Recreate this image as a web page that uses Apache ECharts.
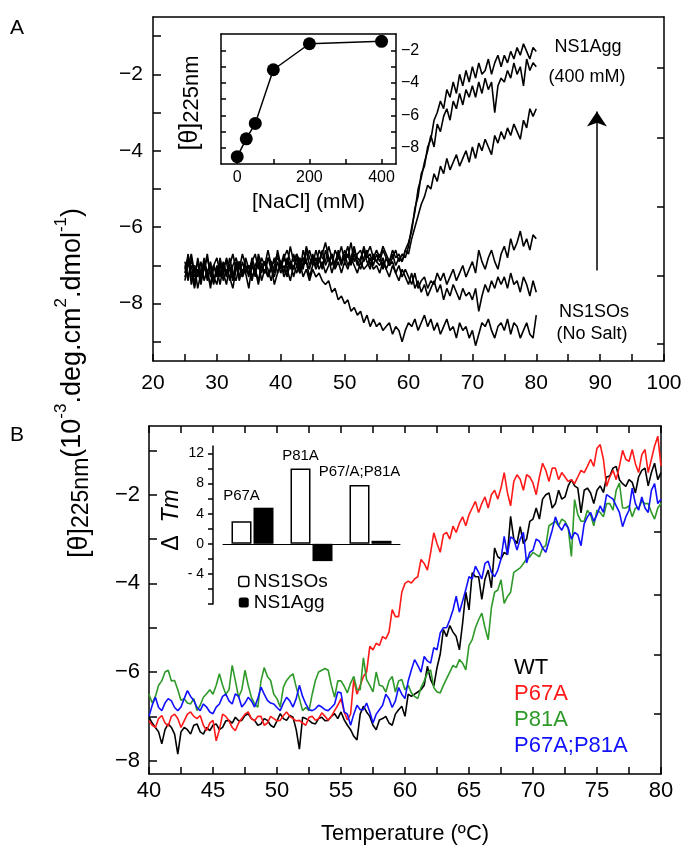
<!DOCTYPE html>
<html>
<head>
<meta charset="utf-8">
<title>NS1 thermal unfolding</title>
<script src="https://cdn.jsdelivr.net/npm/echarts@6.0.0/dist/echarts.min.js"></script>
<style>
  html, body { margin: 0; padding: 0; background: #fff; }
  #main { width: 688px; height: 848px; }
</style>
</head>
<body>
<div id="main"></div>
<script>
// ---- panel A : 25..80 C every 0.5 C, one curve per NaCl concentration
var tempsAStart = 25, tempsAStep = 0.5;
var salt0 = [
  -7.2,-6.7,-7.5,-7.0,-7.3,-6.9,-7.4,-7.1,-7.6,-7.0,
  -7.3,-6.8,-7.2,-7.5,-7.0,-7.3,-6.9,-7.4,-7.1,-7.2,
  -7.6,-7.0,-7.2,-6.9,-7.4,-7.1,-7.3,-7.0,-7.5,-7.2,
  -6.9,-7.3,-7.1,-7.4,-7.0,-7.2,-6.9,-7.3,-7.1,-7.4,
  -7.1,-7.3,-7.2,-7.4,-7.5,-7.4,-7.7,-7.6,-7.9,-7.8,
  -8.0,-7.9,-8.2,-8.1,-8.3,-8.2,-8.5,-8.3,-8.6,-8.4,
  -8.6,-8.5,-8.7,-8.6,-8.5,-8.8,-8.6,-8.7,-9.0,-8.7,
  -8.5,-8.6,-8.4,-8.7,-8.5,-8.3,-8.6,-8.4,-8.7,-8.5,
  -8.8,-8.6,-8.4,-8.7,-8.6,-8.9,-8.5,-8.7,-8.6,-8.9,
  -8.7,-9.1,-8.8,-8.5,-8.6,-8.4,-8.7,-8.9,-8.6,-8.5,
  -8.7,-8.4,-8.8,-8.5,-8.6,-8.9,-8.7,-8.5,-8.8,-8.9,
  -8.3];
var salt25 = [
  -7.0,-7.4,-6.8,-7.3,-7.1,-7.5,-7.0,-7.2,-6.9,-7.4,
  -7.1,-7.5,-7.0,-7.3,-6.8,-7.2,-7.4,-7.0,-7.3,-7.1,
  -7.0,-7.3,-7.1,-7.5,-7.0,-7.2,-6.8,-7.1,-7.3,-6.9,
  -7.2,-7.0,-7.3,-6.9,-7.1,-6.8,-7.2,-7.0,-6.9,-7.3,
  -7.0,-6.8,-7.1,-6.9,-7.2,-7.0,-6.7,-7.1,-6.9,-7.2,
  -6.9,-7.1,-6.8,-7.0,-7.2,-6.9,-7.1,-7.0,-6.8,-7.1,
  -7.0,-7.2,-6.9,-7.1,-7.3,-7.0,-7.2,-7.4,-7.1,-7.3,
  -7.5,-7.2,-7.6,-7.4,-7.7,-7.5,-7.8,-7.6,-7.4,-7.7,
  -7.5,-7.9,-7.6,-7.8,-7.5,-7.7,-7.9,-7.6,-7.8,-7.7,
  -7.9,-7.6,-8.2,-7.8,-7.5,-7.7,-7.4,-7.6,-7.3,-7.5,
  -7.3,-7.6,-7.2,-7.5,-7.4,-7.7,-7.3,-7.5,-7.8,-7.4,
  -7.7];
var salt50 = [
  -7.4,-6.9,-7.2,-7.6,-7.1,-7.3,-6.8,-7.2,-7.5,-7.0,
  -7.2,-6.9,-7.4,-7.1,-7.3,-7.6,-7.1,-6.9,-7.2,-7.0,
  -7.3,-6.8,-7.1,-7.4,-7.0,-6.9,-7.3,-7.1,-6.8,-7.2,
  -7.0,-6.7,-7.1,-6.9,-7.3,-7.0,-6.8,-7.1,-6.6,-7.0,
  -6.8,-7.1,-6.9,-6.6,-7.0,-6.8,-7.2,-6.9,-6.7,-7.0,
  -6.7,-7.0,-6.8,-6.5,-6.9,-7.1,-6.8,-6.6,-7.0,-6.8,
  -6.9,-6.7,-7.1,-6.8,-7.0,-6.9,-7.2,-7.0,-7.3,-7.1,
  -7.3,-7.5,-7.2,-7.6,-7.4,-7.3,-7.6,-7.4,-7.5,-7.2,
  -7.4,-7.2,-7.5,-7.3,-7.1,-7.4,-7.2,-7.0,-7.3,-7.1,
  -6.9,-7.2,-6.6,-6.9,-7.1,-6.8,-6.6,-6.9,-7.1,-6.7,
  -6.5,-6.8,-6.3,-6.6,-6.4,-6.1,-6.5,-6.3,-6.6,-6.2,
  -6.3];
var salt100 = [
  -6.9,-7.3,-7.0,-7.5,-6.8,-7.2,-7.1,-6.7,-7.3,-7.0,
  -6.8,-7.2,-7.0,-6.9,-7.4,-7.0,-6.8,-7.1,-6.7,-7.0,
  -7.2,-6.9,-6.7,-7.1,-6.8,-7.0,-6.6,-7.0,-6.9,-6.7,
  -7.1,-6.8,-7.0,-6.5,-6.9,-6.7,-7.1,-6.8,-6.9,-6.6,
  -6.9,-7.0,-6.6,-6.8,-6.9,-6.5,-6.8,-7.0,-6.6,-6.9,
  -6.8,-6.5,-6.9,-6.7,-7.0,-6.8,-6.6,-6.9,-7.1,-6.7,
  -6.9,-7.0,-6.8,-7.1,-6.9,-6.7,-7.0,-6.8,-6.9,-6.6,
  -6.7,-6.3,-6.0,-5.7,-5.4,-5.2,-4.9,-5.0,-4.6,-4.8,
  -4.4,-4.6,-4.2,-4.5,-4.3,-4.1,-4.4,-4.2,-4.0,-4.3,
  -3.9,-4.2,-3.8,-4.0,-3.7,-3.9,-4.1,-3.6,-3.8,-3.5,
  -3.7,-3.4,-3.6,-3.3,-3.5,-3.7,-3.2,-3.4,-2.9,-3.1,
  -2.9];
var salt200 = [
  -7.1,-6.8,-7.3,-7.0,-7.6,-7.2,-6.9,-7.4,-7.0,-7.3,
  -7.5,-7.0,-7.2,-6.8,-7.1,-7.4,-7.0,-7.3,-6.9,-7.2,
  -7.0,-7.4,-7.0,-6.8,-7.2,-6.9,-7.1,-7.4,-7.0,-6.8,
  -6.9,-7.2,-6.8,-7.1,-6.7,-7.0,-7.2,-6.6,-6.9,-7.1,
  -6.7,-7.0,-6.8,-7.1,-6.6,-6.9,-6.7,-7.0,-6.8,-6.5,
  -6.9,-6.7,-7.0,-6.6,-6.8,-6.9,-6.5,-6.8,-6.7,-7.0,
  -6.7,-6.9,-6.6,-6.8,-7.0,-6.8,-6.6,-6.9,-6.7,-6.8,
  -6.5,-6.0,-5.6,-5.0,-4.7,-4.3,-4.0,-3.6,-3.9,-3.3,
  -3.5,-3.1,-2.9,-3.2,-2.7,-2.9,-2.5,-2.8,-2.4,-2.6,
  -2.3,-2.6,-2.2,-2.5,-2.1,-2.4,-2.2,-3.0,-2.3,-2.1,
  -2.2,-1.9,-2.1,-1.7,-2.0,-1.8,-2.3,-1.6,-1.9,-1.7,
  -1.8];
var salt400 = [
  -7.3,-7.0,-6.7,-7.2,-6.9,-7.4,-7.1,-6.8,-7.2,-7.5,
  -7.0,-7.3,-6.9,-7.2,-7.0,-6.7,-7.1,-6.9,-7.3,-6.8,
  -7.1,-6.9,-7.3,-6.7,-7.0,-7.2,-6.8,-6.9,-7.2,-6.6,
  -7.0,-6.8,-6.6,-6.9,-7.1,-6.7,-6.9,-7.0,-6.5,-6.8,
  -7.0,-6.6,-6.9,-6.7,-6.4,-6.8,-7.0,-6.6,-6.8,-6.9,
  -6.6,-6.8,-6.4,-6.9,-6.7,-6.6,-6.9,-6.7,-6.5,-6.8,
  -6.6,-6.8,-6.5,-6.7,-6.9,-6.6,-6.8,-6.7,-6.9,-6.6,
  -6.4,-6.1,-5.5,-5.2,-4.6,-4.4,-3.9,-3.7,-3.2,-3.0,
  -2.7,-2.9,-2.4,-2.6,-2.2,-2.5,-2.0,-2.3,-1.9,-2.2,
  -1.8,-2.1,-1.7,-2.0,-1.9,-1.6,-2.0,-1.7,-1.5,-1.8,
  -1.5,-1.7,-1.4,-1.6,-1.3,-1.5,-1.2,-1.4,-1.6,-1.3,
  -1.4];

// inset A : end point signal vs NaCl
var naclConc = [0, 25, 50, 100, 200, 400];
var naclTheta = [-8.55, -7.45, -6.5, -3.2, -1.6, -1.45];

// ---- panel B : 40..80 C every 0.25 C
var tempsBStart = 40, tempsBStep = 0.25;
var wt = [
  -7.02,-7.15,-7.25,-7.35, -7.62,-7.30,-7.17,-7.25, -7.40,-7.85,-7.35,-7.25, -7.30,-7.40,-7.20,-7.17,
  -7.35,-7.40,-7.25,-7.32, -7.20,-7.17,-7.30,-7.25, -7.10,-7.09,-7.15,-7.02, -7.10,-7.09,-6.98,-6.94,
  -7.05,-7.09,-7.20,-7.17, -7.05,-7.09,-7.20,-7.25, -7.10,-6.94,-7.05,-7.09, -6.98,-7.02,-7.30,-7.74,
  -7.02,-7.05,-7.09,-7.15, -7.17,-7.05,-7.02,-7.10, -7.09,-7.00,-6.94,-7.05, -6.90,-7.08,-7.20,-7.30,
  -7.45,-7.53,-6.95,-6.77, -6.90,-7.00,-7.20,-7.30, -7.08,-7.05,-7.00,-7.15, -7.20,-6.95,-6.85,-6.77,
  -7.00,-6.50,-6.55,-6.50, -6.45,-6.40,-6.30,-5.87, -6.17,-6.32,-5.90,-5.60, -5.04,-5.20,-4.95,-5.10,
  -5.20,-5.50,-4.90,-4.20, -4.60,-3.76,-3.85,-3.85, -4.36,-3.90,-3.70,-4.10, -3.20,-3.40,-3.45,-3.30,
  -3.35,-2.49,-3.00,-3.10, -2.72,-3.10,-3.00,-2.60, -2.55,-2.30,-2.55,-2.10, -2.00,-1.96,-2.30,-2.20,
  -1.90,-2.10,-2.05,-1.80, -1.66,-1.80,-1.85,-2.41, -1.90,-1.85,-1.96,-2.20, -1.90,-1.80,-1.95,-1.60,
  -1.58,-1.40,-1.36,-1.66, -1.75,-1.81,-1.66,-1.72, -1.96,-1.60,-1.45,-1.40, -1.80,-1.50,-1.29,-1.66,
  -1.50];
var p67a = [
  -7.10,-7.20,-7.25,-7.05, -6.98,-7.15,-7.22,-7.00, -6.95,-7.05,-7.25,-7.10, -6.95,-6.90,-7.00,-7.05,
  -6.98,-7.20,-7.32,-7.15, -7.09,-7.55,-7.30,-6.95, -7.00,-7.10,-7.25,-7.32, -7.15,-7.05,-6.95,-6.90,
  -7.05,-7.10,-7.00,-7.00, -7.20,-7.15,-7.00,-7.05, -7.10,-7.09,-6.98,-6.90, -7.00,-7.05,-7.10,-7.09,
  -7.15,-7.20,-7.02,-7.00, -7.09,-7.05,-6.92,-7.00, -7.09,-7.00,-6.87,-6.75, -6.60,-6.90,-7.08,-6.95,
  -6.17,-6.50,-6.30,-6.10, -6.00,-5.42,-5.50,-5.35, -5.40,-5.20,-5.25,-5.10, -4.59,-4.75,-4.75,-4.20,
  -4.00,-3.95,-3.99,-3.90, -3.85,-3.46,-3.55,-3.70, -3.31,-2.86,-3.10,-3.30, -2.90,-2.85,-3.00,-2.71,
  -2.85,-2.64,-2.50,-2.70, -2.45,-2.30,-2.15,-2.40, -2.20,-2.05,-2.30,-2.00, -1.90,-2.10,-1.85,-1.50,
  -1.95,-2.25,-1.70,-1.55, -1.65,-1.90,-1.55,-1.60, -1.74,-2.00,-1.60,-1.29, -1.45,-1.70,-1.40,-1.40,
  -1.66,-1.50,-1.60,-1.70, -1.66,-1.75,-1.60,-1.45, -1.50,-1.36,-1.20,-1.36, -0.95,-0.87,-1.20,-1.81,
  -1.60,-1.45,-1.66,-1.36, -1.00,-1.20,-1.25,-0.98, -1.30,-1.50,-1.10,-0.98, -1.50,-1.20,-0.90,-0.68,
  -1.35];
var p81a = [
  -6.50,-6.70,-6.55,-6.30, -6.20,-6.00,-5.96,-6.20, -6.19,-6.40,-6.64,-6.60, -6.70,-6.72,-6.60,-6.87,
  -6.75,-6.57,-6.49,-6.40, -6.50,-6.30,-6.04,-6.30, -6.50,-6.40,-5.85,-6.20, -6.57,-6.40,-5.96,-6.30,
  -6.57,-6.72,-6.79,-6.20, -5.90,-6.10,-6.19,-6.50, -6.60,-6.79,-6.34,-6.19, -6.10,-6.04,-6.34,-6.60,
  -6.87,-6.80,-6.87,-6.50, -6.19,-6.00,-5.96,-5.92, -5.96,-6.30,-6.57,-6.20, -6.20,-6.32,-6.47,-6.25,
  -6.10,-6.40,-6.40,-5.68, -6.17,-6.30,-6.45,-6.00, -6.30,-6.32,-6.45,-6.20, -6.10,-6.45,-6.20,-6.17,
  -6.40,-6.30,-6.47,-6.55, -6.60,-6.35,-6.20,-6.02, -5.95,-6.35,-6.45,-6.47, -6.30,-6.15,-6.00,-5.85,
  -5.90,-5.72,-5.80,-5.95, -5.40,-5.27,-5.00,-4.82, -4.67,-5.00,-5.27,-4.55, -4.20,-4.15,-3.92,-4.45,
  -4.30,-4.20,-3.75,-3.70, -3.65,-3.55,-3.45,-3.40, -3.30,-3.35,-3.40,-3.20, -3.15,-2.70,-2.65,-2.60,
  -2.70,-2.55,-2.60,-2.75, -3.39,-2.11,-2.45,-2.60, -2.60,-2.35,-2.45,-2.70, -2.35,-2.40,-2.50,-2.20,
  -2.20,-2.35,-1.90,-1.74, -2.30,-2.30,-2.25,-2.50, -2.30,-2.30,-2.15,-2.20, -2.20,-2.40,-2.55,-2.30,
  -2.20];
var p67ap81a = [
  -7.00,-6.75,-6.57,-6.80, -6.87,-6.70,-6.60,-6.65, -6.80,-6.87,-6.79,-6.60, -6.42,-6.55,-6.64,-6.80,
  -6.87,-6.72,-6.79,-6.90, -6.94,-6.79,-6.72,-6.55, -6.50,-6.65,-6.72,-6.49, -6.55,-6.79,-6.70,-6.57,
  -6.65,-6.79,-6.60,-6.34, -6.50,-6.64,-6.70,-6.72, -6.80,-6.87,-6.70,-6.57, -6.65,-6.79,-6.60,-6.30,
  -6.55,-6.72,-6.85,-6.87, -6.83,-6.75,-6.79,-6.85, -6.87,-6.80,-6.72,-6.45, -6.47,-6.90,-6.95,-7.20,
  -6.95,-6.75,-6.85,-6.85, -6.70,-6.90,-7.15,-6.95, -6.85,-6.75,-6.50,-6.60, -6.80,-6.65,-6.35,-6.50,
  -6.60,-6.20,-5.95,-5.72, -5.85,-6.00,-5.65,-5.75, -5.80,-5.45,-5.50,-5.12, -5.00,-5.00,-4.82,-4.60,
  -4.29,-4.65,-4.40,-4.14, -3.85,-3.90,-3.61,-3.75, -3.90,-3.55,-3.50,-3.75, -3.85,-3.70,-3.45,-2.94,
  -3.35,-2.95,-3.00,-3.25, -3.00,-2.85,-3.54,-3.30, -3.25,-3.00,-3.05,-3.20, -3.30,-3.05,-2.80,-2.50,
  -2.70,-2.80,-2.65,-2.75, -3.00,-2.85,-2.90,-3.15, -2.65,-2.50,-2.40,-2.60, -2.45,-2.25,-2.40,-2.00,
  -2.05,-2.10,-2.25,-2.40, -2.72,-2.50,-2.35,-1.85, -2.20,-2.35,-2.05,-2.30, -2.40,-1.90,-1.75,-2.20,
  -2.10];

// inset B : delta Tm per mutant
var mutants = ['P67A', 'P81A', 'P67/A;P81A'];
var dTmSOs = [3.0, 10.0, 7.8];
var dTmAgg = [4.8, -2.3, 0.4];

// axis tick / label values
var tickA_left = [-9, -8, -7, -6, -5, -4, -3, -2, -1];
var labelA_left = [-8, -6, -4, -2];
var tickA_right = [-1.84, -3.66, -5.47, -7.26, -9.05];
var tickInsetA_y = [-8, -7, -6, -5, -4, -3, -2];
var labelInsetA_y = [-8, -6, -4, -2];
var tickInsetA_x = [0, 100, 200, 300, 400];
var labelInsetA_x = [0, 200, 400];
var tickB_left = [-8, -7, -6, -5, -4, -3, -2, -1];
var labelB_left = [-8, -6, -4, -2];
var tickB_right = [-2.84, -4.25, -5.6, -6.95];
var tickInsetB_y = [-8, -6, -4, -2, 0, 2, 4, 6, 8, 10, 12];
var labelInsetB_y = [-4, 0, 4, 8, 12];

var FONT = '"Liberation Sans", Arial, sans-serif';
var seriesColors = { 'WT': '#000000', 'P67A': '#ff1a1a', 'P81A': '#2f9a2a', 'P67A;P81A': '#1010ff' };

function temps(start, step, n) {
  var t = [];
  for (var i = 0; i < n; i++) t.push(+(start + i * step).toFixed(2));
  return t;
}
function pairs(xs, ys) {
  return ys.map(function (v, i) { return [xs[i], v]; });
}
function minus(v) {
  return v < 0 ? '\u2212' + Math.abs(v) : String(v);
}

var tA = temps(tempsAStart, tempsAStep, salt0.length);
var tB = temps(tempsBStart, tempsBStep, wt.length);

var frame = { show: true, onZero: false, lineStyle: { color: '#000', width: 1.5 } };
var noSplit = { show: false };

function lineOnly(gridIndex, pos, min, max) {
  return { gridIndex: gridIndex, type: 'value', position: pos, min: min, max: max,
    axisLine: frame, axisTick: { show: false }, axisLabel: { show: false }, splitLine: noSplit };
}

var myChart = echarts.init(document.getElementById('main'), null, { renderer: 'canvas' });

var aSeries = [salt0, salt25, salt50, salt100, salt200, salt400].map(function (arr, i) {
  var s = {
    type: 'line', xAxisIndex: 0, yAxisIndex: 0, symbol: 'none',
    lineStyle: { color: '#000', width: 1.6 }, data: pairs(tA, arr), z: 3
  };
  if (i === 0) {
    s.markLine = {
      silent: true, symbol: ['none', 'arrow'], symbolSize: 15,
      label: { show: false },
      lineStyle: { color: '#000', width: 1.5, type: 'solid' },
      data: [[{ coord: [89.5, -7.13] }, { coord: [89.5, -2.97] }]]
    };
  }
  return s;
});

var bNames = ['WT', 'P67A', 'P81A', 'P67A;P81A'];
var bData = [wt, p67a, p81a, p67ap81a];
var bSeries = bData.map(function (arr, i) {
  return {
    name: bNames[i], type: 'line', xAxisIndex: 4, yAxisIndex: 4, symbol: 'none',
    lineStyle: { color: seriesColors[bNames[i]], width: 1.6 },
    itemStyle: { color: seriesColors[bNames[i]] },
    data: pairs(tB, arr), z: 3
  };
});

var barLabelGap = [18, 5, 6];

var option = {
  animation: false,
  backgroundColor: '#fff',
  textStyle: { fontFamily: FONT, color: '#000' },
  grid: [
    { left: 153, top: 17, width: 511, height: 344, containLabel: false, outerBoundsMode: 'none' },
    { left: 221, top: 34, width: 175, height: 130, containLabel: false, outerBoundsMode: 'none' },
    { left: 149, top: 426, width: 512, height: 348, containLabel: false, outerBoundsMode: 'none' },
    { left: 223, top: 446, width: 177, height: 158, containLabel: false, outerBoundsMode: 'none' }
  ],
  xAxis: [
    { gridIndex: 0, type: 'value', min: 20, max: 100, interval: 5,
      axisLine: frame, splitLine: noSplit,
      axisTick: { inside: true, length: 7, lineStyle: { color: '#000', width: 1.5 } },
      axisLabel: { color: '#000', fontSize: 21, fontFamily: FONT, margin: 12,
        formatter: function (v) { return v % 10 === 0 ? String(v) : ''; } } },
    lineOnly(0, 'top', 20, 100),
    { gridIndex: 1, type: 'value', min: -45, max: 440,
      axisLine: frame, splitLine: noSplit,
      axisTick: { inside: true, length: 5, customValues: tickInsetA_x, lineStyle: { color: '#000', width: 1.5 } },
      axisLabel: { customValues: labelInsetA_x, color: '#000', fontSize: 16, fontFamily: FONT, margin: 6 },
      name: '[NaCl] (mM)', nameLocation: 'middle', nameGap: 28,
      nameTextStyle: { color: '#000', fontSize: 21, fontFamily: FONT } },
    lineOnly(1, 'top', -45, 440),
    { gridIndex: 2, type: 'value', min: 40, max: 80, interval: 2.5,
      axisLine: frame, splitLine: noSplit,
      axisTick: { inside: true, length: 7, lineStyle: { color: '#000', width: 1.5 } },
      axisLabel: { color: '#000', fontSize: 22, fontFamily: FONT, margin: 6,
        formatter: function (v) { return v % 5 === 0 ? String(v) : ''; } },
      name: 'Temperature (\u00baC)', nameLocation: 'middle', nameGap: 49,
      nameTextStyle: { color: '#000', fontSize: 22, fontFamily: FONT } },
    { gridIndex: 2, type: 'value', position: 'top', min: 40, max: 80, interval: 2.5,
      axisLine: frame, splitLine: noSplit, axisLabel: { show: false },
      axisTick: { inside: true, length: 7, lineStyle: { color: '#000', width: 1.5 } } },
    { gridIndex: 3, type: 'category', data: mutants,
      axisLine: { show: true, onZero: true, lineStyle: { color: '#000', width: 1 } },
      axisTick: { show: false }, axisLabel: { show: false }, splitLine: noSplit }
  ],
  yAxis: [
    { gridIndex: 0, type: 'value', min: -9.5, max: -0.5,
      axisLine: frame, splitLine: noSplit,
      axisTick: { inside: true, length: 8, customValues: tickA_left, lineStyle: { color: '#000', width: 1.5 } },
      axisLabel: { customValues: labelA_left, formatter: minus, color: '#000', fontSize: 21, fontFamily: FONT, margin: 10 } },
    { gridIndex: 0, type: 'value', position: 'right', min: -9.5, max: -0.5,
      axisLine: frame, splitLine: noSplit, axisLabel: { show: false },
      axisTick: { inside: true, length: 7, customValues: tickA_right, lineStyle: { color: '#000', width: 1.5 } } },
    { gridIndex: 1, type: 'value', min: -9, max: -1,
      axisLine: frame, splitLine: noSplit, axisLabel: { show: false },
      axisTick: { inside: true, length: 5, customValues: tickInsetA_y, lineStyle: { color: '#000', width: 1.5 } } },
    { gridIndex: 1, type: 'value', position: 'right', min: -9, max: -1,
      axisLine: frame, splitLine: noSplit,
      axisTick: { inside: true, length: 5, customValues: tickInsetA_y, lineStyle: { color: '#000', width: 1.5 } },
      axisLabel: { customValues: labelInsetA_y, formatter: minus, color: '#000', fontSize: 16, fontFamily: FONT, margin: 5 } },
    { gridIndex: 2, type: 'value', min: -8.3, max: -0.45,
      axisLine: frame, splitLine: noSplit,
      axisTick: { inside: true, length: 8, customValues: tickB_left, lineStyle: { color: '#000', width: 1.5 } },
      axisLabel: { customValues: labelB_left, formatter: minus, color: '#000', fontSize: 22, fontFamily: FONT, margin: 9 } },
    { gridIndex: 2, type: 'value', position: 'right', min: -8.3, max: -0.45,
      axisLine: frame, splitLine: noSplit, axisLabel: { show: false },
      axisTick: { inside: true, length: 7, customValues: tickB_right, lineStyle: { color: '#000', width: 1.5 } } },
    { gridIndex: 3, type: 'value', min: -8, max: 13, offset: 10,
      axisLine: { show: true, onZero: false, lineStyle: { color: '#000', width: 1.5 } },
      splitLine: noSplit,
      axisTick: { show: true, inside: false, length: 5, customValues: tickInsetB_y, lineStyle: { color: '#000', width: 1.5 } },
      axisLabel: { customValues: labelInsetB_y, color: '#000', fontSize: 14, fontFamily: FONT, margin: 9,
        formatter: function (v) { return v < 0 ? '- ' + Math.abs(v) : String(v); } } }
  ],
  legend: [
    { data: [
        { name: 'NS1SOs', itemStyle: { color: '#fff', borderColor: '#000', borderWidth: 1.5 } },
        { name: 'NS1Agg', itemStyle: { color: '#000' } }
      ],
      orient: 'vertical', left: 233, top: 567, itemWidth: 10, itemHeight: 10, itemGap: 2,
      selectedMode: false, textStyle: { color: '#000', fontSize: 19, fontFamily: FONT } },
    { data: bNames.map(function (n) {
        return { name: n, icon: 'none', textStyle: { color: seriesColors[n] } };
      }),
      orient: 'vertical', left: 504, top: 652, itemWidth: 0, itemHeight: 14, itemGap: 4,
      selectedMode: false, textStyle: { fontSize: 22, fontFamily: FONT } }
  ],
  graphic: [
    { type: 'text', x: 17, y: 28, style: { text: 'A', fontSize: 21, fontFamily: FONT, fill: '#000', align: 'center', verticalAlign: 'middle' } },
    { type: 'text', x: 17, y: 435, style: { text: 'B', fontSize: 21, fontFamily: FONT, fill: '#000', align: 'center', verticalAlign: 'middle' } },
    { type: 'text', x: 73, y: 383, rotation: Math.PI / 2,
      style: {
        text: '{th|[\u03b8]}{sub|225nm}(10{sup|-3}.deg.cm{sup|2}.dmol{sup|-1})',
        fontSize: 27, fontFamily: FONT, fill: '#000', lineHeight: 40,
        align: 'center', verticalAlign: 'middle',
        rich: {
          th: { fontSize: 27, fontFamily: FONT, lineHeight: 26, verticalAlign: 'bottom' },
          sub: { fontSize: 23, fontFamily: FONT, lineHeight: 23, verticalAlign: 'bottom' },
          sup: { fontSize: 17, fontFamily: FONT, lineHeight: 17, verticalAlign: 'top' }
        }
      } },
    { type: 'text', x: 190, y: 103, rotation: Math.PI / 2,
      style: {
        text: '{th|[\u03b8]}{sub|225nm}',
        fontSize: 25, fontFamily: FONT, fill: '#000', lineHeight: 32,
        align: 'center', verticalAlign: 'middle',
        rich: {
          th: { fontSize: 25, fontFamily: FONT, lineHeight: 26, verticalAlign: 'bottom' },
          sub: { fontSize: 22, fontFamily: FONT, lineHeight: 22, verticalAlign: 'bottom' }
        }
      } },
    { type: 'text', x: 172, y: 520, rotation: Math.PI / 2,
      style: {
        text: '\u0394  {i|Tm}', fontSize: 23, fontFamily: FONT, fill: '#000',
        align: 'center', verticalAlign: 'middle',
        rich: { i: { fontSize: 23, fontFamily: FONT, fontStyle: 'italic' } }
      } },
    { type: 'text', x: 588, y: 47, style: { text: 'NS1Agg', fontSize: 18, fontFamily: FONT, fill: '#000', align: 'center', verticalAlign: 'middle' } },
    { type: 'text', x: 587, y: 77, style: { text: '(400 mM)', fontSize: 18, fontFamily: FONT, fill: '#000', align: 'center', verticalAlign: 'middle' } },
    { type: 'text', x: 594, y: 312, style: { text: 'NS1SOs', fontSize: 18, fontFamily: FONT, fill: '#000', align: 'center', verticalAlign: 'middle' } },
    { type: 'text', x: 592, y: 334, style: { text: '(No Salt)', fontSize: 18, fontFamily: FONT, fill: '#000', align: 'center', verticalAlign: 'middle' } }
  ],
  series: aSeries.concat([
    { type: 'line', xAxisIndex: 2, yAxisIndex: 3, symbol: 'circle', symbolSize: 13,
      itemStyle: { color: '#000' }, lineStyle: { color: '#000', width: 1.5 },
      data: pairs(naclConc, naclTheta), z: 4 }
  ]).concat(bSeries).concat([
    { name: 'NS1SOs', type: 'bar', xAxisIndex: 6, yAxisIndex: 6, barWidth: 20, barGap: '10%',
      itemStyle: { color: '#fff', borderColor: '#000', borderWidth: 1.5 },
      data: dTmSOs.map(function (v, i) {
        return { value: v, label: { show: true, position: 'top', distance: barLabelGap[i], formatter: mutants[i],
          color: '#000', fontSize: 15, fontFamily: FONT } };
      }), z: 4 },
    { name: 'NS1Agg', type: 'bar', xAxisIndex: 6, yAxisIndex: 6, barWidth: 20, barGap: '10%',
      itemStyle: { color: '#000' }, data: dTmAgg, z: 4 }
  ])
};

myChart.setOption(option);
</script>
</body>
</html>
